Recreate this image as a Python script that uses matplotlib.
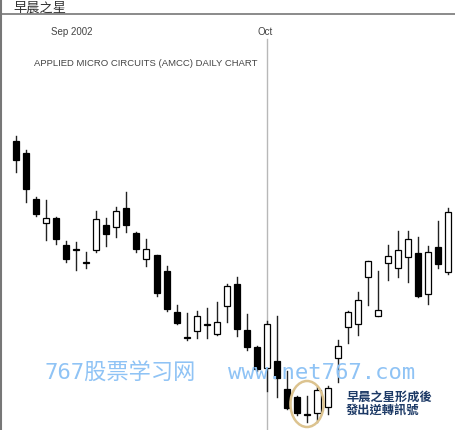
import matplotlib
matplotlib.use("Agg")
import matplotlib.pyplot as plt
from matplotlib.patches import Rectangle, Ellipse
from matplotlib.lines import Line2D

# AMCC daily OHLC, Sep - Oct 2002
opens = [4.89, 4.77, 4.31, 4.07, 4.12, 3.85, 3.80, 3.67, 3.80, 4.05,
         4.03, 4.22, 3.97, 3.71, 3.75, 3.59, 3.18, 2.92, 2.99, 3.05,
         2.96, 3.24, 3.46, 3.00, 2.83, 2.62, 2.69, 2.41, 2.33, 2.15,
         2.17, 2.23, 2.72, 3.03, 3.06, 3.53, 3.14, 3.67, 3.62, 3.73,
         3.77, 3.36, 3.83, 3.58]
highs = [4.94, 4.80, 4.33, 4.30, 4.13, 3.89, 3.88, 3.78, 4.19, 4.12,
         4.23, 4.38, 3.98, 3.91, 3.75, 3.64, 3.25, 3.17, 3.19, 3.22,
         3.28, 3.46, 3.53, 3.16, 2.84, 3.09, 3.14, 2.59, 2.34, 2.34,
         2.43, 2.44, 2.90, 3.19, 3.38, 3.69, 3.59, 3.85, 3.99, 3.99,
         3.93, 3.84, 4.09, 4.22]
lows = [4.58, 4.28, 4.14, 3.90, 3.86, 3.68, 3.60, 3.62, 3.78, 3.84,
        3.93, 3.98, 3.78, 3.64, 3.34, 3.19, 3.06, 2.90, 2.92, 2.92,
        2.95, 3.08, 2.94, 2.80, 2.59, 2.39, 2.33, 2.21, 2.15, 2.08,
        2.08, 2.16, 2.48, 2.87, 2.95, 3.25, 3.14, 3.50, 3.53, 3.48,
        3.33, 3.26, 3.62, 3.56]
closes = [4.70, 4.41, 4.16, 4.12, 3.91, 3.71, 3.81, 3.67, 4.11, 3.96,
          4.19, 4.05, 3.81, 3.81, 3.37, 3.21, 3.07, 2.92, 3.14, 3.05,
          3.08, 3.44, 3.01, 2.83, 2.61, 3.06, 2.52, 2.22, 2.17, 2.15,
          2.40, 2.42, 2.84, 3.18, 3.30, 3.69, 3.20, 3.74, 3.80, 3.91,
          3.34, 3.78, 3.66, 4.18]

month_labels = ["Sep 2002", "Oct"]
month_label_pos = [5.6, 24.8]
oct_start = 25

title = "APPLIED MICRO CIRCUITS (AMCC) DAILY CHART"
header = "早晨之星"
note_lines = ["早晨之星形成後", "發出逆轉訊號"]
star_center = (28.96, 2.26)

W, H = 455, 431
Y0, Y1 = 2.0, 6.31
fig = plt.figure(figsize=(W / 100, H / 100), dpi=100)
fig.patch.set_facecolor("white")
ax = fig.add_axes([0, 0, 1, 1])
ax.set_xlim(-1.56, 43.67)
ax.set_ylim(Y0, Y1)
ax.axis("off")


def py(pixel_row):
    """Price level at a given pixel row from the top."""
    return Y0 + (H - pixel_row) / 100


body_w = 0.6
for i, (o, h, l, c) in enumerate(zip(opens, highs, lows, closes)):
    ax.add_line(Line2D([i, i], [l, h], color="#222222", lw=1.0, zorder=2))
    bottom = min(o, c)
    height = max(abs(c - o), 0.008)
    face = "black" if c < o else "white"
    ax.add_patch(Rectangle((i - body_w / 2, bottom), body_w, height,
                           facecolor=face, edgecolor="black", lw=0.9,
                           zorder=3))

# start of October
ax.axvline(oct_start, ymin=0, ymax=391 / H, color="#b8b8b8", lw=1.0,
           zorder=1)

for lab, pos in zip(month_labels, month_label_pos):
    ax.text(pos, py(32), lab, ha="center", va="center",
            fontsize=7, family="Liberation Sans", color="#444444")
ax.text(12.93, py(63.5), title, ha="center", va="center",
        fontsize=6.8, family="Liberation Sans", color="#444444")

# ring around the morning star pattern
ax.add_patch(Ellipse(star_center, 3.3, 0.46, fill=False,
                     edgecolor="#dcc38f", lw=1.8, zorder=4))

# header bar
fig.text(13 / W, 1 - 8 / H, header, ha="left", va="center", fontsize=9.5,
         fontweight="medium", family=["Noto Sans CJK SC"], color="#333333")
fig.add_artist(Line2D([0, 1], [1 - 14.5 / H, 1 - 14.5 / H],
                      transform=fig.transFigure, color="#777777", lw=1.2))
fig.add_artist(Line2D([1 / W, 1 / W], [0, 1], transform=fig.transFigure,
                      color="#777777", lw=1.5))

# annotation
for row, line in zip([397, 410], note_lines):
    fig.text(346 / W, 1 - row / H, line, ha="left", va="center",
             fontsize=8.8, fontweight="bold", family=["Noto Sans CJK TC"],
             color="#1d3a66", zorder=6)

# site watermark
fig.text(45 / W, 1 - 373 / H, "767股票学习网", ha="left", va="center",
         fontsize=16, family=["DejaVu Sans Mono", "Noto Sans CJK SC"],
         color="#8fc3f5", zorder=5)
fig.text(228 / W, 1 - 373 / H, "www.net767.com", ha="left", va="center",
         fontsize=16, family=["DejaVu Sans Mono"], color="#8fc3f5",
         zorder=5)

fig.savefig("out.png", dpi=100, facecolor="white")
